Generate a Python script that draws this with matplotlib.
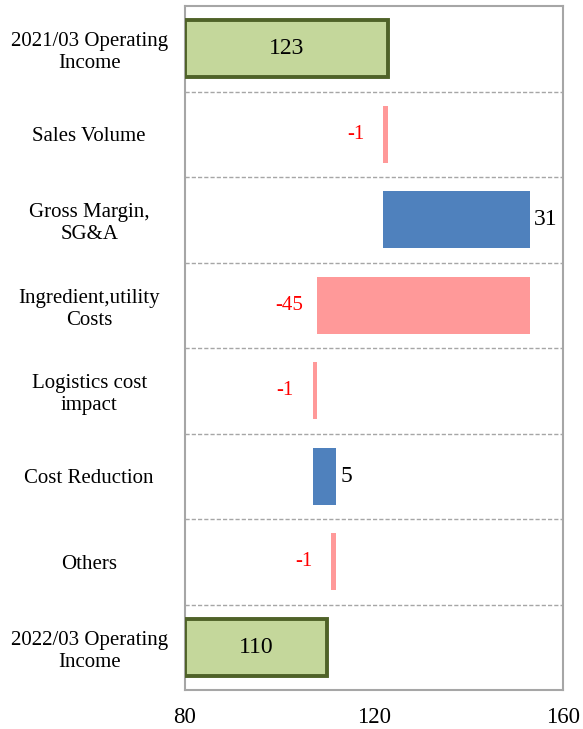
import matplotlib
matplotlib.use("Agg")
import matplotlib.pyplot as plt
import numpy as np

plt.rcParams['font.family'] = ['Liberation Serif', 'DejaVu Serif']

# waterfall data (JPY, displayed values)
categories = ['2021/03 Operating\nIncome', 'Sales Volume', 'Gross Margin,\nSG&A',
              'Ingredient,utility\nCosts', 'Logistics cost\nimpact', 'Cost Reduction',
              'Others', '2022/03 Operating\nIncome']
values = [123, -1, 31, -45, -1, 5, -1, 110]
is_total = [True, False, False, False, False, False, False, True]
x_ticks = [80, 120, 160]

# colours
total_fill = '#C4D79B'
total_edge = '#4F6228'
pos_color = '#4F81BD'
neg_color = '#FF9999'
grid_color = '#A6A6A6'

x_min, x_max = 80, 160

fig = plt.figure(figsize=(5.83, 7.29), dpi=100)
ax = fig.add_axes([185 / 583, 39 / 729, 378 / 583, 684 / 729])

running = 0
for i, (val, tot) in enumerate(zip(values, is_total)):
    if tot:
        running = val
        ax.barh(i, val - x_min, left=x_min, height=0.67, color=total_fill,
                edgecolor=total_edge, linewidth=2.8, zorder=3)
        ax.text((x_min + val) / 2, i, str(val), ha='center', va='center',
                fontsize=17, color='black', zorder=4)
    else:
        start = running
        running = running + val
        if val >= 0:
            ax.barh(i, val, left=start, height=0.67, color=pos_color, zorder=3)
            ax.annotate(str(val), xy=(running, i), xytext=(3, 0), textcoords='offset points',
                        ha='left', va='center', fontsize=17, color='black')
        else:
            ax.barh(i, -val, left=running, height=0.67, color=neg_color, zorder=3)
            ax.annotate(str(val), xy=(running, i), xytext=(-20, 0), textcoords='offset points',
                        ha='center', va='center', fontsize=15, color='red')

# dashed separators between categories
for k in range(len(categories) - 1):
    ax.axhline(k + 0.5, color=grid_color, linestyle='--', linewidth=1.0, dashes=(3, 1.5), zorder=1)

ax.set_xlim(x_min, x_max)
ax.set_ylim(len(categories) - 0.5, -0.5)
ax.set_yticks(range(len(categories)))
ax.set_yticklabels(categories, fontsize=15, ha='center', linespacing=1.2)
ax.set_xticks(x_ticks)
ax.set_xticklabels([str(t) for t in x_ticks], fontsize=16.5)
ax.tick_params(axis='y', length=0, pad=69)
ax.tick_params(axis='x', length=0, pad=12)

for sp in ax.spines.values():
    sp.set_color(grid_color)
    sp.set_linewidth(1.5)

fig.savefig('out.png', dpi=100)
